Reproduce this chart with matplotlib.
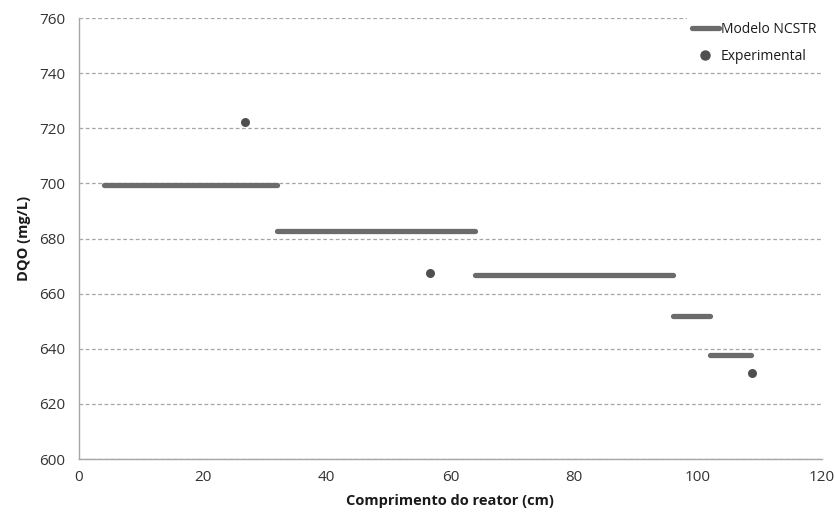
import matplotlib
matplotlib.use("Agg")
import matplotlib.pyplot as plt
from matplotlib.lines import Line2D

plt.rcParams['font.family'] = ['Open Sans', 'DejaVu Sans']

# NCSTR model: piecewise-constant COD per tank (start, end, value)
seg_start = [4, 32, 64, 96, 102]
seg_end = [32, 64, 96, 102, 108.6]
seg_dqo = [699.5, 682.8, 666.7, 652.0, 637.8]

# Experimental measurements
exp_x = [26.8, 56.7, 108.7]
exp_dqo = [722.3, 667.5, 631.2]

line_color = '#6b6b6b'
point_color = '#4f4f4f'

fig = plt.figure(figsize=(8.36, 5.17), dpi=100)
ax = fig.add_axes([0.0945, 0.112, 0.8885, 0.853])

for x0, x1, y in zip(seg_start, seg_end, seg_dqo):
    ax.plot([x0, x1], [y, y], color=line_color, lw=3.8,
            solid_capstyle='round', zorder=3)

ax.scatter(exp_x, exp_dqo, s=42, color=point_color, zorder=4, linewidths=0)

ax.set_xlim(0, 120)
ax.set_ylim(600, 760)
ax.set_xticks(range(0, 121, 20))
ax.set_yticks(range(600, 761, 20))
ax.tick_params(axis='both', length=0, labelsize=11, colors='#333333', pad=8)
ax.tick_params(axis='y', pad=10)

ax.grid(axis='y', color='#a6a6a6', linestyle=(0, (3, 2)), linewidth=0.9)
ax.set_axisbelow(True)
for s in ['top', 'right']:
    ax.spines[s].set_visible(False)
for s in ['left', 'bottom']:
    ax.spines[s].set_color('#a6a6a6')
    ax.spines[s].set_linewidth(1.0)

ax.set_xlabel('Comprimento do reator (cm)', fontsize=10.5, fontweight='bold',
              color='#1a1a1a', labelpad=6)
ax.set_ylabel('DQO (mg/L)', fontsize=10.5, fontweight='bold',
              color='#1a1a1a', labelpad=6)

handles = [
    Line2D([0], [0], color=line_color, lw=3.8, solid_capstyle='round'),
    Line2D([0], [0], marker='o', linestyle='none', markersize=6.5,
           markerfacecolor=point_color, markeredgecolor=point_color),
]
leg = ax.legend(handles, ['Modelo NCSTR', 'Experimental'],
                loc='upper right', bbox_to_anchor=(1.009, 1.02),
                frameon=True, fontsize=10, handlelength=1.9,
                handletextpad=0.15, labelspacing=0.9, borderpad=0.4,
                labelcolor='#1a1a1a')
leg.get_frame().set_edgecolor('white')
leg.get_frame().set_facecolor('white')
leg.get_frame().set_alpha(1.0)

fig.savefig('out.png', dpi=100, facecolor='white')
